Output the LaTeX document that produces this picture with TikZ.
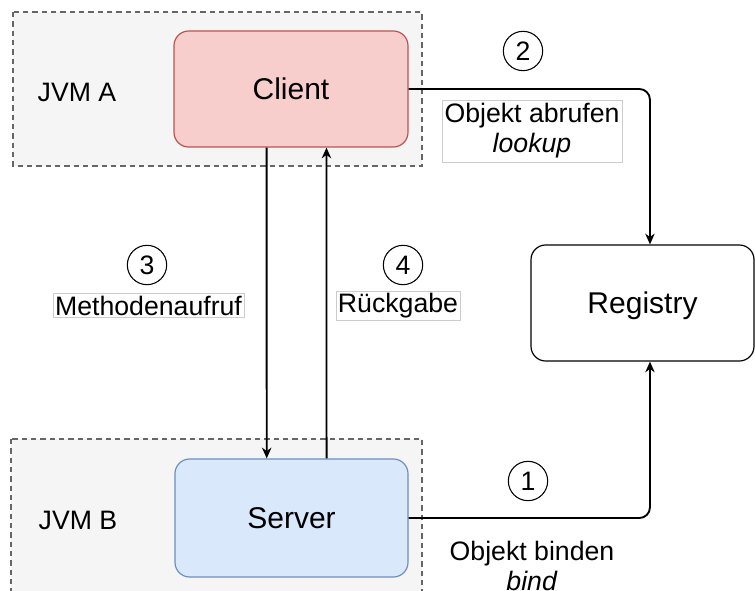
\documentclass[tikz,border=0pt]{standalone}
\usepackage{fontspec}
\setmainfont{Liberation Sans}
\usetikzlibrary{arrows.meta,calc}
\definecolor{jvmfill}{HTML}{F5F5F5}
\definecolor{jvmline}{HTML}{666666}
\definecolor{clientfill}{HTML}{F8CECC}
\definecolor{clientline}{HTML}{B85450}
\definecolor{serverfill}{HTML}{DAE8FC}
\definecolor{serverline}{HTML}{6C8EBF}
\definecolor{lblline}{HTML}{CCCCCC}
\tikzset{
  jvmbox/.style={draw=jvmline, fill=jvmfill, dashed, dash pattern=on 4pt off 3pt, line width=0.8pt},
  compbox/.style={draw, rounded corners=11pt, line width=0.9pt, font=\fontsize{22.5}{27}\selectfont, inner sep=0pt, text depth=-3pt},
  conn/.style={line width=1.4pt, rounded corners=8pt, -{Stealth[length=8pt,width=7pt,inset=2.5pt]}},
  numcirc/.style={circle, draw, line width=0.8pt, minimum size=29.5pt, inner sep=0pt, font=\fontsize{20}{24}\selectfont},
  lbl/.style={font=\fontsize{20}{22.5}\selectfont, align=center, inner sep=1.5pt},
  lblbox/.style={lbl, draw=lblline, fill=white, line width=0.6pt}
}
\begin{document}
\begin{tikzpicture}[x=0.75pt,y=-0.75pt]
\clip (0,0) rectangle (755,591);
\fill[white] (0,0) rectangle (755,591);
% containers
\draw[jvmbox] (13,12) rectangle (422,166);
\draw[jvmbox] (11,439) rectangle (422,610);
\node[lbl] (jvma) at (77,92) {JVM A};
\node[lbl] (jvmb) at (78,520) {JVM B};
% components
\node[compbox, fill=clientfill, draw=clientline, minimum width=175.5pt, minimum height=87pt] (client) at (291,89) {Client};
\node[compbox, fill=serverfill, draw=serverline, minimum width=174.75pt, minimum height=88.5pt] (server) at (291.5,518) {Server};
\node[compbox, fill=white, draw=black, minimum width=167.25pt, minimum height=87pt] (registry) at (642.5,303) {Registry};
% connectors
\draw[conn] (client.east) -| ([xshift=5.6pt]registry.north);
\draw[conn] (server.east) -| ([xshift=5.6pt]registry.south);
\draw[conn] ([xshift=-18.3pt]client.south) -- ([xshift=-18.6pt]server.north);
\draw[conn] ([xshift=26.3pt]server.north) -- ([xshift=26.6pt]client.south);
% labels
\node[numcirc] (n2) at (523,51) {2};
\node[lblbox, minimum width=135pt, minimum height=46.5pt] (l2) at (532,131) {Objekt abrufen\\\textit{lookup}};
\node[numcirc] (n3) at (147,265) {3};
\node[lblbox] (l3) at (148.5,305.5) {Methodenaufruf};
\node[numcirc] (n4) at (403,265) {4};
\node[lblbox] (l4) at (398,305.5) {Rückgabe};
\node[numcirc] (n1) at (528,481) {1};
\node[lbl] (l1) at (532,566) {Objekt binden\\\textit{bind}};
\end{tikzpicture}
\end{document}
